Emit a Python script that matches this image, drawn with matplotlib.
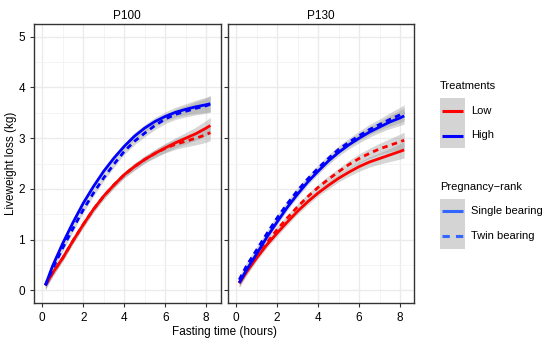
import matplotlib.pyplot as plt
from matplotlib.lines import Line2D
from matplotlib.patches import Rectangle
import numpy as np

plt.rcParams['font.family'] = ['Liberation Sans', 'DejaVu Sans']

# Fasting time (hours)
hours = [0.15, 0.5, 1, 1.5, 2, 2.5, 3, 3.5, 4, 4.5, 5, 5.5, 6, 6.5, 7, 7.5, 8, 8.2]

# P100 panel
p100_high_single = [0.10, 0.48, 0.93, 1.34, 1.72, 2.05, 2.35, 2.61, 2.84, 3.04, 3.20, 3.33, 3.43, 3.51, 3.57, 3.62, 3.66, 3.68]
p100_high_twin = [0.10, 0.42, 0.84, 1.22, 1.59, 1.92, 2.22, 2.49, 2.74, 2.94, 3.10, 3.25, 3.38, 3.47, 3.53, 3.59, 3.64, 3.67]
p100_low_single = [0.10, 0.34, 0.64, 0.98, 1.30, 1.60, 1.86, 2.08, 2.28, 2.44, 2.58, 2.70, 2.81, 2.91, 3.00, 3.09, 3.20, 3.25]
p100_low_twin = [0.10, 0.34, 0.64, 0.98, 1.30, 1.60, 1.86, 2.08, 2.28, 2.44, 2.58, 2.70, 2.80, 2.88, 2.94, 3.00, 3.07, 3.11]

# P130 panel
p130_high_single = [0.15, 0.40, 0.72, 1.05, 1.35, 1.64, 1.90, 2.14, 2.35, 2.55, 2.72, 2.87, 3.00, 3.12, 3.22, 3.32, 3.40, 3.44]
p130_high_twin = [0.21, 0.48, 0.80, 1.12, 1.43, 1.71, 1.97, 2.20, 2.41, 2.60, 2.78, 2.92, 3.05, 3.17, 3.27, 3.37, 3.46, 3.50]
p130_low_single = [0.14, 0.36, 0.64, 0.90, 1.13, 1.35, 1.56, 1.75, 1.92, 2.07, 2.21, 2.33, 2.44, 2.53, 2.60, 2.67, 2.74, 2.77]
p130_low_twin = [0.15, 0.38, 0.67, 0.94, 1.20, 1.43, 1.65, 1.85, 2.03, 2.19, 2.34, 2.48, 2.60, 2.70, 2.79, 2.86, 2.93, 2.96]

# half width of the grey confidence bands
band = [0.08, 0.07, 0.06, 0.06, 0.06, 0.06, 0.06, 0.06, 0.06, 0.07, 0.07, 0.08, 0.09, 0.10, 0.11, 0.13, 0.15, 0.16]

treatments = ["Low", "High"]
treat_colors = ["red", "blue"]
ranks = ["Single bearing", "Twin bearing"]

panels = {
    "P100": [(p100_low_single, "red", "-"), (p100_low_twin, "red", "--"),
             (p100_high_single, "blue", "-"), (p100_high_twin, "blue", "--")],
    "P130": [(p130_low_single, "red", "-"), (p130_low_twin, "red", "--"),
             (p130_high_single, "blue", "-"), (p130_high_twin, "blue", "--")],
}

fig = plt.figure(figsize=(5.5, 3.44), dpi=100)
lefts = [0.062, 0.4145]
x = np.array(hours)
b = np.array(band)
DASH = (2.0, 1.6)

for i, (name, series) in enumerate(panels.items()):
    ax = fig.add_axes([lefts[i], 0.119, 0.339, 0.811])
    for vals, col, ls in series:
        v = np.array(vals)
        ax.fill_between(x, v - b, v + b, color="#999999", alpha=0.4, lw=0, zorder=2)
    for vals, col, ls in series:
        ax.plot(x, vals, color=col, ls=ls, lw=2.0, zorder=3, solid_capstyle="butt",
                dashes=DASH if ls == "--" else (None, None))
    ax.set_xlim(-0.4, 8.7)
    ax.set_ylim(-0.25, 5.25)
    ax.set_xticks([0, 2, 4, 6, 8])
    ax.set_xticks([1, 3, 5, 7], minor=True)
    ax.set_yticks([0, 1, 2, 3, 4, 5])
    ax.set_yticks([0.5, 1.5, 2.5, 3.5, 4.5], minor=True)
    ax.grid(which="major", color="#ebebeb", lw=1.0, zorder=0)
    ax.grid(which="minor", color="#f3f3f3", lw=0.6, zorder=0)
    ax.set_axisbelow(True)
    ax.tick_params(which="minor", length=0)
    ax.tick_params(which="major", length=3, width=0.8, labelsize=8.5, color="#333333")
    for s in ax.spines.values():
        s.set_color("#333333")
        s.set_linewidth(1.0)
    ax.set_title(name, fontsize=8.5, pad=4)
    if i == 0:
        ax.set_ylabel("Liveweight loss (kg)", fontsize=8.5, labelpad=1)
    else:
        ax.tick_params(labelleft=False)

fig.text(0.408, 0.025, "Fasting time (hours)", ha="center", fontsize=8.5)

# legends drawn by hand in a pixel-space overlay (ggplot style grey keys)
lg = fig.add_axes([0, 0, 1, 1], zorder=5)
lg.set_xlim(0, 550)
lg.set_ylim(344, 0)
lg.axis("off")


def draw_legend(top, title, labels, colors, styles):
    lg.text(440, top, title, fontsize=8, va="center", ha="left")
    y0 = top + 12
    lg.add_patch(Rectangle((440, y0), 25, 25 * len(labels), facecolor="#d4d4d4", edgecolor="none"))
    for k, (lab, col, st) in enumerate(zip(labels, colors, styles)):
        yc = y0 + 12.5 + 25 * k
        lg.add_line(Line2D([442, 463], [yc, yc], color=col, lw=2.2, solid_capstyle="butt",
                           dashes=(2.4, 2.0) if st == "--" else (None, None)))
        lg.text(471, yc, lab, fontsize=8, va="center", ha="left")


draw_legend(86, "Treatments", treatments, treat_colors, ["-", "-"])
draw_legend(186.5, "Pregnancy\u2212rank", ranks, ["#3366FF", "#3366FF"], ["-", "--"])

fig.savefig("out.png", dpi=100)
